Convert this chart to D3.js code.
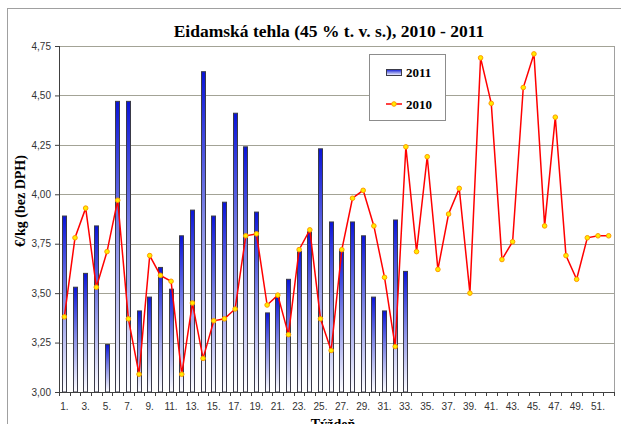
<!DOCTYPE html>
<html>
<head>
<meta charset="utf-8">
<script src="https://cdn.jsdelivr.net/npm/d3@7"></script>
<style>
  html, body { margin: 0; padding: 0; background: #fff; }
  svg { display: block; }
</style>
</head>
<body>
<div id="chart"></div>
<script>
const weeks = d3.range(1, 53);
const yTicks = [3.00, 3.25, 3.50, 3.75, 4.00, 4.25, 4.50, 4.75];

// 2011 – weekly prices (bars), weeks 1..33
const values2011 = [3.89, 3.53, 3.60, 3.84, 3.24, 4.47, 4.47, 3.41, 3.48, 3.63,
  3.52, 3.79, 3.92, 4.62, 3.89, 3.96, 4.41, 4.24, 3.91, 3.40,
  3.48, 3.57, 3.71, 3.81, 4.23, 3.86, 3.72, 3.86, 3.79, 3.48,
  3.41, 3.87, 3.61];

// 2010 – weekly prices (line), weeks 1..52
const values2010 = [3.38, 3.78, 3.93, 3.53, 3.71, 3.97, 3.37, 3.09, 3.69, 3.59,
  3.56, 3.09, 3.45, 3.17, 3.36, 3.37, 3.42, 3.79, 3.80, 3.44,
  3.49, 3.29, 3.72, 3.82, 3.37, 3.21, 3.72, 3.98, 4.02, 3.84,
  3.58, 3.23, 4.24, 3.71, 4.19, 3.62, 3.90, 4.03, 3.50, 4.69,
  4.46, 3.67, 3.76, 4.54, 4.71, 3.84, 4.39, 3.69, 3.57, 3.78,
  3.79, 3.79];

const W = 621, H = 424;
const margin = { top: 46, right: 7, bottom: 32, left: 59 };
const innerW = W - margin.left - margin.right;
const innerH = H - margin.top - margin.bottom;

const svg = d3.select('#chart').append('svg').attr('width', W).attr('height', H);

const defs = svg.append('defs');
const grad = defs.append('linearGradient').attr('id', 'barGrad')
  .attr('x1', 0).attr('y1', 0).attr('x2', 0).attr('y2', 1);
grad.append('stop').attr('offset', '0%').attr('stop-color', '#0a14d8');
grad.append('stop').attr('offset', '45%').attr('stop-color', '#7f86e6');
grad.append('stop').attr('offset', '100%').attr('stop-color', '#ffffff');

// outer chart border
svg.append('rect').attr('x', 7.5).attr('y', 8.5).attr('width', W + 10).attr('height', H + 10)
  .attr('fill', 'none').attr('stroke', '#a0a0a0');

svg.append('text')
  .attr('x', 329).attr('y', 37)
  .attr('text-anchor', 'middle')
  .style('font-family', '"Liberation Serif", "Times New Roman", serif')
  .style('font-weight', 'bold').style('font-size', '17.5px')
  .text('Eidamská tehla (45 % t. v. s.), 2010 - 2011');

const g = svg.append('g').attr('transform', `translate(${margin.left},${margin.top})`);

const x = d3.scaleBand().domain(weeks).range([0, innerW]).padding(0);
const y = d3.scaleLinear().domain([3, 4.75]).range([innerH, 0]);

// gridlines
g.append('g').selectAll('line').data(yTicks.slice(1)).join('line')
  .attr('x1', 0).attr('x2', innerW)
  .attr('y1', d => Math.round(y(d)) + 0.5).attr('y2', d => Math.round(y(d)) + 0.5)
  .attr('stroke', '#a3a396').attr('stroke-width', 1);

// plot border right
g.append('line').attr('x1', innerW + 0.5).attr('x2', innerW + 0.5).attr('y1', 0).attr('y2', innerH)
  .attr('stroke', '#a0a0a0');

// bars 2011
const bw = 5;
g.append('g').selectAll('rect').data(values2011).join('rect')
  .attr('x', (d, i) => Math.round(x(weeks[i]) + x.bandwidth() / 2 - bw / 2) + 0.5)
  .attr('y', d => y(d))
  .attr('width', bw - 1)
  .attr('height', d => innerH - y(d))
  .attr('fill', 'url(#barGrad)')
  .attr('stroke', '#3a3a48').attr('stroke-width', 1);

// axes
const yAxis = g.append('g').call(d3.axisLeft(y).tickValues(yTicks).tickSize(4).tickPadding(4)
  .tickFormat(d => d3.format('.2f')(d).replace('.', ',')));
const xAxis = g.append('g').attr('transform', `translate(0,${innerH})`)
  .call(d3.axisBottom(x).tickValues(weeks.filter(w => w % 2 === 1)).tickSize(0).tickPadding(11)
    .tickFormat(d => d + '.'));
[yAxis, xAxis].forEach(a => {
  a.select('.domain').attr('stroke', '#404040');
  a.selectAll('.tick line').attr('stroke', '#404040');
  a.selectAll('text').style('font-family', '"Liberation Sans", Arial, sans-serif')
    .style('font-size', '10px').attr('fill', '#333');
});
xAxis.select('.domain').attr('d', `M0.5,0.5H${innerW + 0.5}`);
yAxis.select('.domain').attr('d', `M0.5,0H0.5V${innerH}`);

// x tick marks at band boundaries
g.append('g').selectAll('line').data(d3.range(0, weeks.length + 1)).join('line')
  .attr('x1', i => Math.round(i * x.step()) + 0.5).attr('x2', i => Math.round(i * x.step()) + 0.5)
  .attr('y1', innerH).attr('y2', innerH + 4)
  .attr('stroke', '#404040');

// line 2010
const line = d3.line().x((d, i) => x(weeks[i]) + x.bandwidth() / 2).y(d => y(d));
g.append('path').datum(values2010).attr('d', line)
  .attr('fill', 'none').attr('stroke', '#ff0000').attr('stroke-width', 1.5);
g.append('g').selectAll('circle').data(values2010).join('circle')
  .attr('cx', (d, i) => x(weeks[i]) + x.bandwidth() / 2).attr('cy', d => y(d))
  .attr('r', 2.3).attr('fill', '#ffee00').attr('stroke', '#ff9900').attr('stroke-width', 1);

// axis titles
svg.append('text')
  .attr('transform', 'translate(25,201) rotate(-90)')
  .attr('text-anchor', 'middle')
  .style('font-family', '"Liberation Serif", "Times New Roman", serif')
  .style('font-weight', 'bold').style('font-size', '14px')
  .text('€/kg (bez DPH)');
svg.append('text')
  .attr('x', 333).attr('y', 429).attr('text-anchor', 'middle')
  .style('font-family', '"Liberation Serif", "Times New Roman", serif')
  .style('font-weight', 'bold').style('font-size', '14px')
  .text('Týždeň');

// legend
const lg = svg.append('g');
lg.append('rect').attr('x', 369.5).attr('y', 54.5).attr('width', 76).attr('height', 66)
  .attr('fill', '#fff').attr('stroke', '#8c8c8c');
lg.append('rect').attr('x', 386.5).attr('y', 69.5).attr('width', 15).attr('height', 6)
  .attr('fill', 'url(#barGrad)').attr('stroke', '#3a3a48');
lg.append('line').attr('x1', 386).attr('x2', 402).attr('y1', 104).attr('y2', 104)
  .attr('stroke', '#ff0000').attr('stroke-width', 1.5);
lg.append('circle').attr('cx', 394).attr('cy', 104).attr('r', 2.3)
  .attr('fill', '#ffee00').attr('stroke', '#ff9900');
[['2011', 76.5], ['2010', 108.5]].forEach(([t, yy]) => {
  lg.append('text').attr('x', 406).attr('y', yy)
    .style('font-family', '"Liberation Serif", "Times New Roman", serif')
    .style('font-weight', 'bold').style('font-size', '13px')
    .text(t);
});
</script>
</body>
</html>
